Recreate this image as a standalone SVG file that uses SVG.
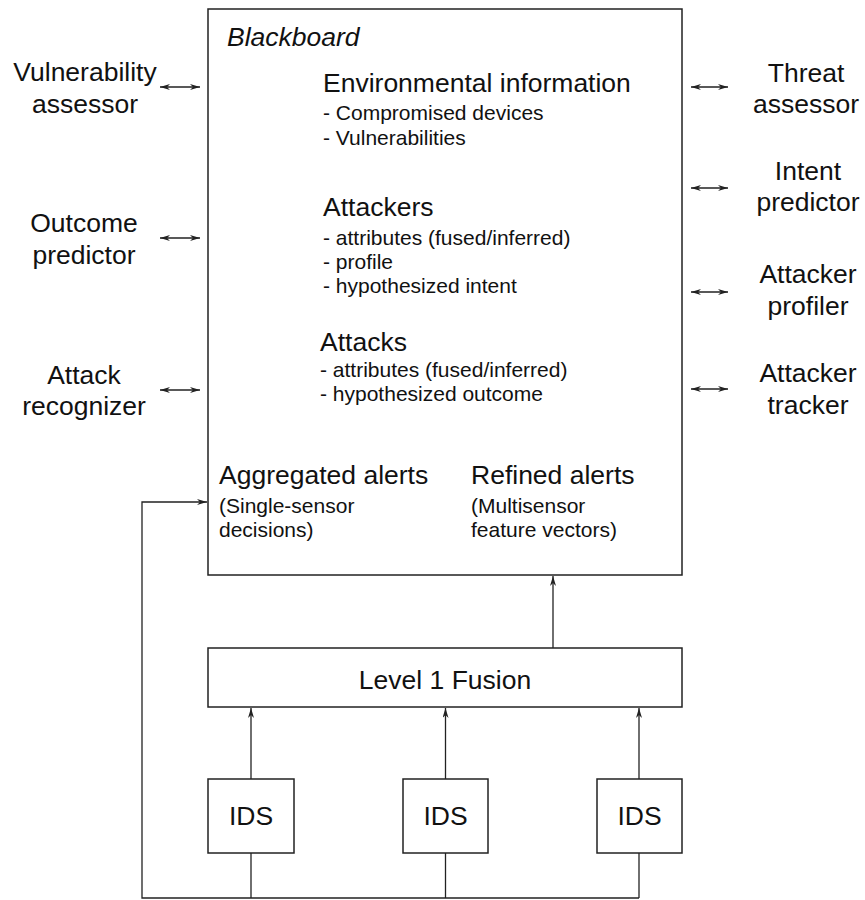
<svg xmlns="http://www.w3.org/2000/svg" width="865" height="900" viewBox="0 0 865 900">
  <style>
    .box { fill: #ffffff; stroke: #222222; stroke-width: 1.5; }
    .wire { fill: none; stroke: #222222; stroke-width: 1.3; }
    .h { font-family: "Liberation Sans", Arial, sans-serif; font-size: 26.5px; fill: #111111; }
    .s { font-family: "Liberation Sans", Arial, sans-serif; font-size: 21px; fill: #111111; }
    .c { text-anchor: middle; }
    .it { font-style: italic; }
  </style>
  <defs>
    <marker id="head" viewBox="0 0 10 6" refX="10" refY="3" markerWidth="10" markerHeight="6" markerUnits="userSpaceOnUse" orient="auto-start-reverse">
      <path d="M0,0 L10,3 L0,6 L3,3 z" fill="#222222"/>
    </marker>
  </defs>
  <rect width="865" height="900" fill="#ffffff"/>

  <!-- central blackboard -->
  <g id="blackboard">
    <rect class="box" x="208" y="9" width="474" height="566"/>
    <text class="h it" x="227" y="46">Blackboard</text>
    <text class="h" x="323" y="92">Environmental information</text>
    <text class="s" x="323" y="120">- Compromised devices</text>
    <text class="s" x="323" y="145">- Vulnerabilities</text>
    <text class="h" x="323" y="216">Attackers</text>
    <text class="s" x="323" y="245">- attributes (fused/inferred)</text>
    <text class="s" x="323" y="269">- profile</text>
    <text class="s" x="323" y="293">- hypothesized intent</text>
    <text class="h" x="320" y="351">Attacks</text>
    <text class="s" x="320" y="377">- attributes (fused/inferred)</text>
    <text class="s" x="320" y="401">- hypothesized outcome</text>
    <text class="h" x="219" y="484">Aggregated alerts</text>
    <text class="s" x="219" y="513">(Single-sensor</text>
    <text class="s" x="219" y="537">decisions)</text>
    <text class="h" x="471" y="484">Refined alerts</text>
    <text class="s" x="471" y="513">(Multisensor</text>
    <text class="s" x="471" y="537">feature vectors)</text>
  </g>

  <!-- knowledge sources, left -->
  <g id="vulnerability-assessor">
    <text class="h c" x="85" y="81">Vulnerability</text>
    <text class="h c" x="85" y="113">assessor</text>
  </g>
  <g id="outcome-predictor">
    <text class="h c" x="84" y="232">Outcome</text>
    <text class="h c" x="84" y="264">predictor</text>
  </g>
  <g id="attack-recognizer">
    <text class="h c" x="84" y="384">Attack</text>
    <text class="h c" x="84" y="415">recognizer</text>
  </g>

  <!-- knowledge sources, right -->
  <g id="threat-assessor">
    <text class="h c" x="806" y="82">Threat</text>
    <text class="h c" x="806" y="113">assessor</text>
  </g>
  <g id="intent-predictor">
    <text class="h c" x="808" y="180">Intent</text>
    <text class="h c" x="808" y="211">predictor</text>
  </g>
  <g id="attacker-profiler">
    <text class="h c" x="808" y="283">Attacker</text>
    <text class="h c" x="808" y="315">profiler</text>
  </g>
  <g id="attacker-tracker">
    <text class="h c" x="808" y="382">Attacker</text>
    <text class="h c" x="808" y="414">tracker</text>
  </g>

  <!-- fusion stage -->
  <g id="level1-fusion">
    <rect class="box" x="208" y="648" width="474" height="59"/>
    <text class="h c" x="445" y="689">Level 1 Fusion</text>
  </g>

  <!-- sensors -->
  <g id="ids-1">
    <rect class="box" x="208" y="779" width="86" height="74"/>
    <text class="h c" x="251" y="825">IDS</text>
  </g>
  <g id="ids-2">
    <rect class="box" x="403" y="779" width="85" height="74"/>
    <text class="h c" x="445.5" y="825">IDS</text>
  </g>
  <g id="ids-3">
    <rect class="box" x="597" y="779" width="85" height="74"/>
    <text class="h c" x="639.5" y="825">IDS</text>
  </g>

  <!-- connectors -->
  <g id="connectors" class="wire">
    <line x1="160" y1="87" x2="200" y2="87" marker-start="url(#head)" marker-end="url(#head)"/>
    <line x1="160" y1="238" x2="200" y2="238" marker-start="url(#head)" marker-end="url(#head)"/>
    <line x1="160" y1="390" x2="200" y2="390" marker-start="url(#head)" marker-end="url(#head)"/>
    <line x1="691" y1="87" x2="728" y2="87" marker-start="url(#head)" marker-end="url(#head)"/>
    <line x1="691" y1="188" x2="728" y2="188" marker-start="url(#head)" marker-end="url(#head)"/>
    <line x1="691" y1="292" x2="728" y2="292" marker-start="url(#head)" marker-end="url(#head)"/>
    <line x1="691" y1="389" x2="728" y2="389" marker-start="url(#head)" marker-end="url(#head)"/>

    <line x1="553" y1="648" x2="553" y2="576" marker-end="url(#head)"/>

    <line x1="251" y1="779" x2="251" y2="708" marker-end="url(#head)"/>
    <line x1="445.5" y1="779" x2="445.5" y2="708" marker-end="url(#head)"/>
    <line x1="639" y1="779" x2="639" y2="708" marker-end="url(#head)"/>

    <polyline points="251,853 251,898"/>
    <polyline points="445.5,853 445.5,898"/>
    <polyline points="639,853 639,898"/>
    <polyline points="639,898 142,898 142,502 207,502" marker-end="url(#head)"/>
  </g>
</svg>
